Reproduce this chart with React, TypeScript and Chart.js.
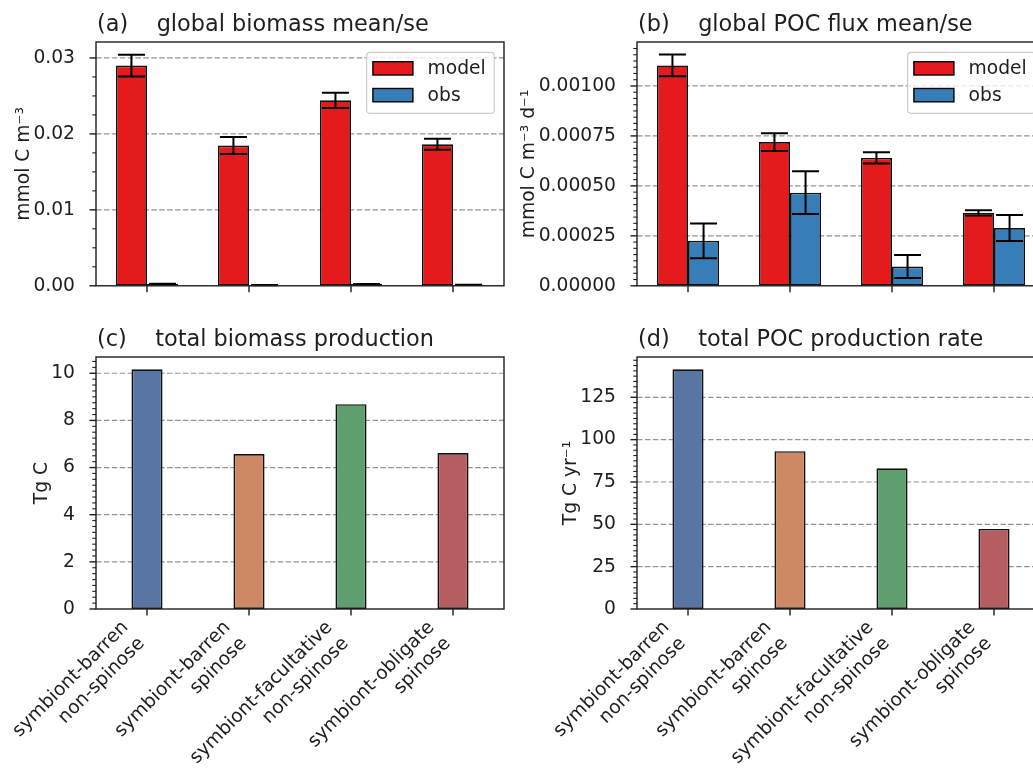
import React, { useEffect, useRef } from 'react';
import { Chart, registerables } from 'chart.js';

Chart.register(...registerables);

// ---------------- data ----------------
const categories: string[][] = [
  ['symbiont-barren', 'non-spinose'],
  ['symbiont-barren', 'spinose'],
  ['symbiont-facultative', 'non-spinose'],
  ['symbiont-obligate', 'spinose'],
];

const biomassModel = [0.0290, 0.01847, 0.02442, 0.01863];
const biomassModelSe = [0.00143, 0.00112, 0.00100, 0.00072];
const biomassObs = [0.00025, 0.00008, 0.00022, 0.00012];
const biomassObsSe = [0.00002, 0.00001, 0.00002, 0.00001];

const fluxModel = [0.001103, 0.000719, 0.00064, 0.000365];
const fluxModelSe = [0.000055, 0.000044, 0.000028, 0.000013];
const fluxObs = [0.000225, 0.000466, 0.0000965, 0.000289];
const fluxObsSe = [0.000087, 0.000107, 0.000057, 0.000065];

const totalBiomass = [10.17, 6.57, 8.69, 6.62];
const pocRate = [141.5, 93.2, 83.1, 47.3];

const ticksA = [0, 0.01, 0.02, 0.03];
const ticksB = [0, 0.00025, 0.0005, 0.00075, 0.001];
const ticksC = [0, 2, 4, 6, 8, 10];
const ticksD = [0, 25, 50, 75, 100, 125];

const seriesNames = ['model', 'obs'];
const seriesColors = ['#e41a1c', '#377eb8'];
const groupColors = ['#5975a4', '#cc8963', '#5f9e6e', '#b55d60'];

// ---------------- style ----------------
const FONT = "'DejaVu Sans', 'Liberation Sans', sans-serif";
const TICK = 18.7;
const TITLE = 22.4;
const INK = '#1e1e1e';

type Spec = {
  title: string;
  yTitle: string;
  max: number;
  majors: number[];
  minorStep: number;
  fmt: (v: number) => string;
  datasets: any[];
  errors: (number[] | null)[];
  legend: boolean;
  xLabels: boolean;
  padTop: number;
  padRight: number;
  yWidth: number;
  xHeight: number;
};

function decor(spec: Spec) {
  return {
    id: 'decor',
    beforeDatasetsDraw(chart: any) {
      const { ctx, chartArea: a, scales } = chart;
      const y = scales.y;
      ctx.save();
      ctx.strokeStyle = 'rgba(120,120,120,0.8)';
      ctx.lineWidth = 1.2;
      ctx.setLineDash([5.5, 2.4]);
      for (const v of spec.majors) {
        if (v <= 0) continue;
        const py = y.getPixelForValue(v);
        ctx.beginPath();
        ctx.moveTo(a.left, py);
        ctx.lineTo(a.right, py);
        ctx.stroke();
      }
      ctx.restore();
    },
    afterDatasetsDraw(chart: any) {
      const { ctx, chartArea: a, scales } = chart;
      const y = scales.y;
      const x = scales.x;
      ctx.save();
      // error bars
      ctx.strokeStyle = '#000';
      ctx.lineWidth = 2;
      spec.errors.forEach((errs, di) => {
        if (!errs) return;
        const meta = chart.getDatasetMeta(di);
        const vals = spec.datasets[di].data as number[];
        meta.data.forEach((bar: any, i: number) => {
          const cx = bar.x;
          const hi = y.getPixelForValue(vals[i] + errs[i]);
          const lo = y.getPixelForValue(Math.max(0, vals[i] - errs[i]));
          ctx.beginPath();
          ctx.moveTo(cx, hi);
          ctx.lineTo(cx, lo);
          ctx.moveTo(cx - 13.5, hi);
          ctx.lineTo(cx + 13.5, hi);
          ctx.moveTo(cx - 13.5, lo);
          ctx.lineTo(cx + 13.5, lo);
          ctx.stroke();
        });
      });
      // frame
      ctx.strokeStyle = INK;
      ctx.lineWidth = 1.4;
      ctx.strokeRect(a.left, a.top, a.right - a.left, a.bottom - a.top);
      // y major ticks
      ctx.lineWidth = 1.4;
      for (const v of spec.majors) {
        const py = y.getPixelForValue(v);
        ctx.beginPath();
        ctx.moveTo(a.left, py);
        ctx.lineTo(a.left - 6.5, py);
        ctx.stroke();
      }
      // y minor ticks
      ctx.lineWidth = 1.1;
      const n = Math.floor(spec.max / spec.minorStep + 1e-9);
      for (let k = 1; k <= n; k++) {
        const v = k * spec.minorStep;
        if (spec.majors.some((m) => Math.abs(m - v) < spec.minorStep * 1e-3)) continue;
        const py = y.getPixelForValue(v);
        if (py < a.top + 0.5) continue;
        ctx.beginPath();
        ctx.moveTo(a.left, py);
        ctx.lineTo(a.left - 3.7, py);
        ctx.stroke();
      }
      // x ticks
      ctx.lineWidth = 1.4;
      categories.forEach((_, i) => {
        const px = x.getPixelForValue(i);
        ctx.beginPath();
        ctx.moveTo(px, a.bottom);
        ctx.lineTo(px, a.bottom + 6.5);
        ctx.stroke();
      });
      // legend
      if (spec.legend) {
        const bw = 127.7;
        const bh = 61;
        const bx = a.right - 9.7 - bw;
        const by = a.top + 10.3;
        ctx.beginPath();
        ctx.roundRect(bx, by, bw, bh, 3.5);
        ctx.fillStyle = 'rgba(255,255,255,0.8)';
        ctx.fill();
        ctx.strokeStyle = '#cccccc';
        ctx.lineWidth = 1.2;
        ctx.stroke();
        ctx.font = `${TICK}px ${FONT}`;
        ctx.textAlign = 'left';
        ctx.textBaseline = 'middle';
        seriesNames.forEach((name, i) => {
          const cy = by + 16 + i * 26.8;
          ctx.fillStyle = seriesColors[i];
          ctx.fillRect(bx + 6.3, cy - 6.6, 40, 13.3);
          ctx.strokeStyle = '#000';
          ctx.lineWidth = 1.4;
          ctx.strokeRect(bx + 6.3, cy - 6.6, 40, 13.3);
          ctx.fillStyle = INK;
          ctx.fillText(name, bx + 61, cy + 1);
        });
      }
      ctx.restore();
    },
    afterDraw(chart: any) {
      const { ctx, chartArea: a, scales } = chart;
      const x = scales.x;
      ctx.save();
      // title
      ctx.fillStyle = INK;
      ctx.font = `${TITLE}px ${FONT}`;
      ctx.textAlign = 'left';
      ctx.textBaseline = 'alphabetic';
      ctx.fillText(spec.title, a.left + 1, a.top - 11);
      // y title
      ctx.font = `${TICK}px ${FONT}`;
      let w = 0;
      for (const v of spec.majors) w = Math.max(w, ctx.measureText(spec.fmt(v)).width);
      const bx = a.left - 13 - w - 12.5;
      ctx.translate(bx, (a.top + a.bottom) / 2);
      ctx.rotate(-Math.PI / 2);
      ctx.textAlign = 'center';
      ctx.fillText(spec.yTitle, 0, 0);
      ctx.restore();
      // x category labels
      if (spec.xLabels) {
        ctx.save();
        ctx.fillStyle = INK;
        ctx.font = `${TICK}px ${FONT}`;
        ctx.textAlign = 'right';
        ctx.textBaseline = 'alphabetic';
        categories.forEach((lines, i) => {
          const tx = x.getPixelForValue(i);
          ctx.save();
          ctx.translate(tx - 27.9, a.bottom + 9.1);
          ctx.rotate(-Math.PI / 4);
          lines.forEach((ln, k) => ctx.fillText(ln, 0, 14 + k * 22.8));
          ctx.restore();
        });
        ctx.restore();
      }
    },
  };
}

function makeChart(canvas: HTMLCanvasElement, spec: Spec) {
  return new Chart(canvas, {
    type: 'bar',
    data: { labels: categories.map((c) => c.join(' ')), datasets: spec.datasets },
    options: {
      responsive: false,
      animation: false,
      devicePixelRatio: 1,
      layout: { padding: { top: spec.padTop, right: spec.padRight, left: 0, bottom: 0 } },
      plugins: {
        legend: { display: false },
        tooltip: { enabled: false },
        title: { display: false },
      },
      scales: {
        x: {
          type: 'category',
          offset: true,
          grid: { display: false },
          border: { display: false },
          ticks: { display: false },
          afterFit: (s: any) => {
            s.height = spec.xHeight;
          },
        },
        y: {
          type: 'linear',
          min: 0,
          max: spec.max,
          grid: { display: false },
          border: { display: false },
          ticks: {
            font: { family: FONT, size: TICK },
            color: INK,
            padding: 13,
            callback: (v: any) => spec.fmt(Number(v)),
          },
          afterBuildTicks: (s: any) => {
            s.ticks = spec.majors.map((v) => ({ value: v }));
          },
          afterFit: (s: any) => {
            s.width = spec.yWidth;
          },
        },
      },
    } as any,
    plugins: [decor(spec) as any],
  });
}

const pairDatasets = (model: number[], obs: number[]) => [
  {
    label: seriesNames[0],
    data: model,
    backgroundColor: seriesColors[0],
    borderColor: '#111',
    borderWidth: 1.7,
    borderSkipped: false,
    categoryPercentage: 0.61,
    barPercentage: 1,
  },
  {
    label: seriesNames[1],
    data: obs,
    backgroundColor: seriesColors[1],
    borderColor: '#111',
    borderWidth: 1.7,
    borderSkipped: false,
    categoryPercentage: 0.61,
    barPercentage: 1,
  },
];

const singleDataset = (vals: number[]) => [
  {
    label: 'total',
    data: vals,
    backgroundColor: groupColors,
    borderColor: '#111',
    borderWidth: 1.7,
    borderSkipped: false,
    categoryPercentage: 0.305,
    barPercentage: 1,
  },
];

const specs: { left: number; top: number; width: number; height: number; spec: Spec }[] = [
  {
    left: 0, top: 0, width: 520, height: 310,
    spec: {
      title: '(a)    global biomass mean/se',
      yTitle: 'mmol C m\u207B\u00B3',
      max: 0.0321,
      majors: ticksA,
      minorStep: 0.0025,
      fmt: (v) => v.toFixed(2),
      datasets: pairDatasets(biomassModel, biomassObs),
      errors: [biomassModelSe, biomassObsSe],
      legend: true,
      xLabels: false,
      padTop: 42, padRight: 16, yWidth: 96, xHeight: 15,
    },
  },
  {
    left: 520, top: 0, width: 540, height: 310,
    spec: {
      title: '(b)    global POC flux mean/se',
      yTitle: 'mmol C m\u207B\u00B3 d\u207B\u00B9',
      max: 0.00122,
      majors: ticksB,
      minorStep: 0.00003125,
      fmt: (v) => v.toFixed(5),
      datasets: pairDatasets(fluxModel, fluxObs),
      errors: [fluxModelSe, fluxObsSe],
      legend: true,
      xLabels: false,
      padTop: 42, padRight: 15, yWidth: 117, xHeight: 15,
    },
  },
  {
    left: 0, top: 310, width: 520, height: 460,
    spec: {
      title: '(c)    total biomass production',
      yTitle: 'Tg C',
      max: 10.69,
      majors: ticksC,
      minorStep: 0.25,
      fmt: (v) => String(v),
      datasets: singleDataset(totalBiomass),
      errors: [null],
      legend: false,
      xLabels: true,
      padTop: 47, padRight: 16, yWidth: 96, xHeight: 161,
    },
  },
  {
    left: 520, top: 310, width: 540, height: 460,
    spec: {
      title: '(d)    total POC production rate',
      yTitle: 'Tg C yr\u207B\u00B9',
      max: 148.8,
      majors: ticksD,
      minorStep: 3.125,
      fmt: (v) => String(v),
      datasets: singleDataset(pocRate),
      errors: [null],
      legend: false,
      xLabels: true,
      padTop: 47, padRight: 15, yWidth: 117, xHeight: 161,
    },
  },
];

function Panel({ left, top, width, height, spec }: { left: number; top: number; width: number; height: number; spec: Spec }) {
  const ref = useRef<HTMLCanvasElement | null>(null);
  useEffect(() => {
    if (!ref.current) return;
    const chart = makeChart(ref.current, spec);
    return () => chart.destroy();
  }, []);
  return (
    <canvas
      ref={ref}
      width={width}
      height={height}
      style={{ position: 'absolute', left, top, width, height }}
    />
  );
}

export default function App() {
  return (
    <div
      style={{
        position: 'fixed',
        left: 0,
        top: 0,
        width: 1033,
        height: 770,
        overflow: 'hidden',
        background: '#fff',
      }}
    >
      {specs.map((p, i) => (
        <Panel key={i} {...p} />
      ))}
    </div>
  );
}
